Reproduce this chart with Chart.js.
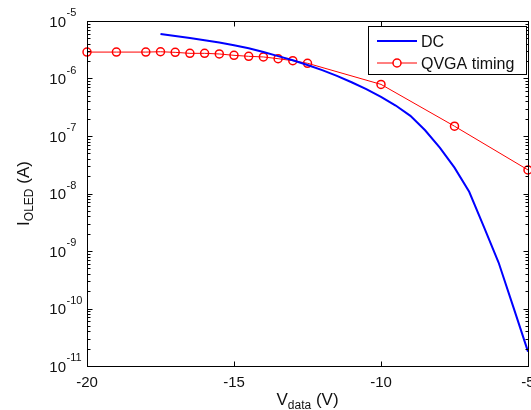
<!DOCTYPE html>
<html>
<head>
<meta charset="utf-8">
<script src="https://cdn.jsdelivr.net/npm/chart.js@4.4.0/dist/chart.umd.min.js"></script>
<style>
html, body { margin: 0; padding: 0; background: #fff; overflow: hidden; }
#wrap { width: 545px; height: 410px; }
</style>
</head>
<body>
<div id="wrap"><canvas id="chart" width="545" height="410"></canvas></div>
<script>
// DC sweep (V_data in volts, I_OLED in amps)
const dcVoltage = [-17.5, -17, -16.5, -16, -15.5, -15, -14.5, -14, -13.5, -13, -12.5, -12, -11.5, -11,
    -10.5, -10, -9.5, -9, -8.5, -8, -7.5, -7, -6.5, -6, -5.5, -5];
const dcCurrent = [5.96e-6, 5.47e-6, 5.04e-6, 4.62e-6, 4.22e-6, 3.8e-6, 3.35e-6, 2.88e-6, 2.45e-6, 2.07e-6,
    1.72e-6, 1.4e-6, 1.11e-6, 8.6e-7, 6.53e-7, 4.79e-7, 3.39e-7, 2.24e-7, 1.26e-7, 6.3e-8, 2.82e-8,
    1.07e-8, 2.63e-9, 6.31e-10, 1.07e-10, 1.78e-11];

// QVGA timing measurements
const qvgaVoltage = [-20, -19, -18, -17.5, -17, -16.5, -16, -15.5, -15, -14.5, -14, -13.5, -13, -12.5, -10, -7.5, -5];
const qvgaCurrent = [2.88e-6, 2.88e-6, 2.88e-6, 2.92e-6, 2.85e-6, 2.74e-6, 2.74e-6, 2.67e-6, 2.53e-6, 2.43e-6,
    2.37e-6, 2.21e-6, 2.04e-6, 1.84e-6, 7.9e-7, 1.48e-7, 2.57e-8];

// axis ticks
const xTickValues = [-20, -15, -10, -5];
const yTickExponents = [-11, -10, -9, -8, -7, -6, -5];

const FONT = '"Liberation Sans", Arial, Helvetica, sans-serif';

function toPoints(xs, ys) {
    return xs.map((x, i) => ({ x: x, y: ys[i] }));
}

const matlabAxes = {
    id: 'matlabAxes',
    afterDraw(chart) {
        const ctx = chart.ctx;
        const xs = chart.scales.x;
        const ys = chart.scales.y;
        const a = chart.chartArea;
        const L = Math.round(a.left) + 0.5, R = Math.round(a.right) + 0.5;
        const T = Math.round(a.top) + 0.5, B = Math.round(a.bottom) + 0.5;

        ctx.save();
        ctx.strokeStyle = '#000';
        ctx.lineWidth = 1;
        ctx.strokeRect(L, T, R - L, B - T);

        // x ticks, top and bottom, pointing inward
        ctx.beginPath();
        xTickValues.forEach(v => {
            const px = Math.round(xs.getPixelForValue(v)) + 0.5;
            ctx.moveTo(px, B); ctx.lineTo(px, B - 5);
            ctx.moveTo(px, T); ctx.lineTo(px, T + 5);
        });
        // y ticks, major and minor, left and right
        yTickExponents.forEach(e => {
            for (let m = 1; m <= 9; m++) {
                if (e === yTickExponents[yTickExponents.length - 1] && m > 1) break;
                const py = Math.round(ys.getPixelForValue(m * Math.pow(10, e))) + 0.5;
                const len = m === 1 ? 5 : 3;
                ctx.moveTo(L, py); ctx.lineTo(L + len, py);
                ctx.moveTo(R, py); ctx.lineTo(R - len, py);
            }
        });
        ctx.stroke();

        ctx.fillStyle = '#111';
        // x tick labels
        ctx.font = '15px ' + FONT;
        ctx.textAlign = 'center';
        ctx.textBaseline = 'alphabetic';
        xTickValues.forEach(v => {
            ctx.fillText(String(v), xs.getPixelForValue(v), B + 20);
        });
        // y tick labels 10^e
        yTickExponents.forEach(e => {
            const py = ys.getPixelForValue(Math.pow(10, e));
            ctx.font = '15px ' + FONT;
            ctx.textAlign = 'right';
            ctx.fillText('10', 66, py + 5.5);
            ctx.font = '11px ' + FONT;
            ctx.textAlign = 'left';
            ctx.fillText(String(e), 66.5, py - 5);
        });

        // x axis title: V_data (V)
        const cx = (a.left + a.right) / 2;
        const parts = [['V', 17, 0], ['data', 12, 4], [' (V)', 17, 0]];
        let total = 0;
        parts.forEach(p => { ctx.font = p[1] + 'px ' + FONT; total += ctx.measureText(p[0]).width; });
        let x = cx - total / 2;
        ctx.textAlign = 'left';
        parts.forEach(p => {
            ctx.font = p[1] + 'px ' + FONT;
            ctx.fillText(p[0], x, 405 + p[2]);
            x += ctx.measureText(p[0]).width;
        });

        // y axis title: I_OLED (A)
        const cy = (a.top + a.bottom) / 2;
        const yparts = [['I', 17, 0], ['OLED', 12, 4], [' (A)', 17, 0]];
        total = 0;
        yparts.forEach(p => { ctx.font = p[1] + 'px ' + FONT; total += ctx.measureText(p[0]).width; });
        ctx.save();
        ctx.translate(29, cy);
        ctx.rotate(-Math.PI / 2);
        x = -total / 2;
        yparts.forEach(p => {
            ctx.font = p[1] + 'px ' + FONT;
            ctx.fillText(p[0], x, p[2]);
            x += ctx.measureText(p[0]).width;
        });
        ctx.restore();

        // legend box
        const lx = 368.5, ly = 26.5, lw = 158, lh = 48;
        ctx.fillStyle = '#fff';
        ctx.fillRect(lx, ly, lw, lh);
        ctx.strokeStyle = '#000';
        ctx.lineWidth = 1;
        ctx.strokeRect(lx, ly, lw, lh);
        const ds = chart.data.datasets;
        const rows = [41, 63];
        ds.forEach((d, i) => {
            const ry = rows[i];
            ctx.strokeStyle = d.borderColor;
            ctx.lineWidth = d.borderWidth;
            ctx.beginPath();
            ctx.moveTo(377, ry); ctx.lineTo(417, ry);
            ctx.stroke();
            if (d.pointRadius > 0) {
                ctx.lineWidth = d.pointBorderWidth;
                ctx.beginPath();
                ctx.arc(397, ry, d.pointRadius, 0, Math.PI * 2);
                ctx.fillStyle = '#fff';
                ctx.fill();
                ctx.stroke();
            }
            ctx.fillStyle = '#111';
            ctx.font = '16px ' + FONT;
            ctx.textAlign = 'left';
            ctx.fillText(d.label, 421, ry + 6);
        });
        ctx.restore();
    }
};

new Chart(document.getElementById('chart'), {
    type: 'line',
    data: {
        datasets: [{
            label: 'DC',
            data: toPoints(dcVoltage, dcCurrent),
            borderColor: '#0000ff',
            borderWidth: 2,
            pointRadius: 0,
            tension: 0,
            clip: false
        }, {
            label: 'QVGA timing',
            data: toPoints(qvgaVoltage, qvgaCurrent),
            borderColor: '#ff0000',
            borderWidth: 1,
            pointRadius: 4,
            pointBorderWidth: 1.5,
            pointBorderColor: '#ff0000',
            pointBackgroundColor: 'rgba(0,0,0,0)',
            tension: 0,
            clip: false
        }]
    },
    options: {
        responsive: false,
        animation: false,
        layout: { padding: { left: 87, top: 21, right: 17, bottom: 44 } },
        plugins: { legend: { display: false }, tooltip: { enabled: false } },
        scales: {
            x: { type: 'linear', min: -20, max: -5, display: false },
            y: { type: 'logarithmic', min: 1e-11, max: 1e-5, display: false }
        }
    },
    plugins: [matlabAxes]
});
</script>
</body>
</html>
